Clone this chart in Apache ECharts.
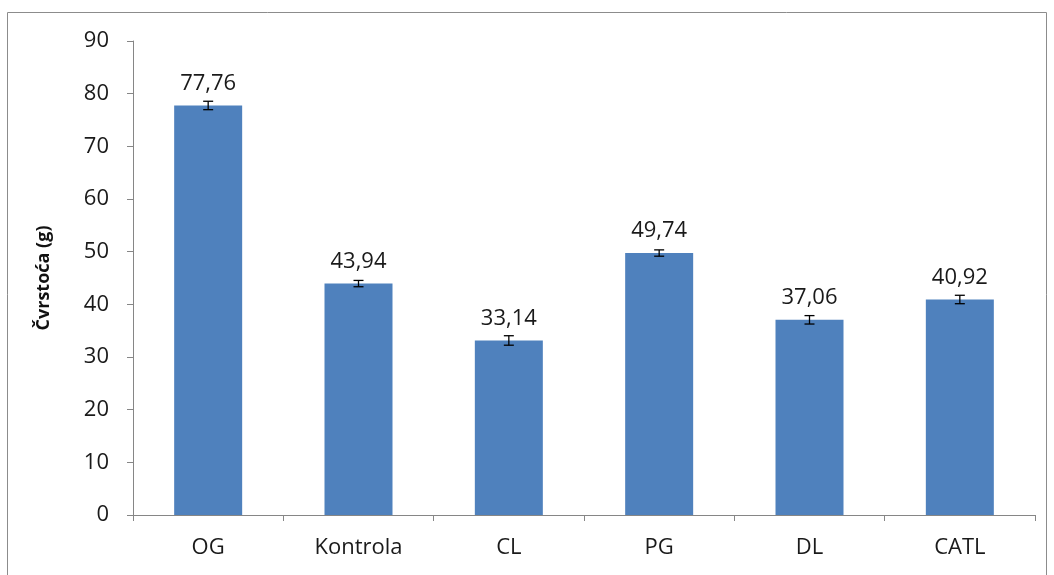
<!DOCTYPE html>
<html><head><meta charset="utf-8">
<script src="https://cdn.jsdelivr.net/npm/echarts@6/dist/echarts.min.js"></script>
<style>html,body{margin:0;padding:0;background:#fff}#c{width:1054px;height:575px}</style>
</head><body><div id="c"></div>
<script>
const categories = ['OG','Kontrola','CL','PG','DL','CATL'];
const values = [77.76, 43.94, 33.14, 49.74, 37.06, 40.92];
const errors = [0.8, 0.6, 0.9, 0.6, 0.8, 0.8];
const labels = ['77,76','43,94','33,14','49,74','37,06','40,92'];
const yTicks = [0,10,20,30,40,50,60,70,80,90];

const chart = echarts.init(document.getElementById('c'));
const font = 'Open Sans, Liberation Sans, sans-serif';
chart.setOption({
  animation:false,
  graphic:[{type:'rect',shape:{x:7.5,y:12.5,width:1039,height:600},style:{fill:'none',stroke:'#8c8c8c',lineWidth:1}}],
  grid:{left:133,right:19,top:41,bottom:60},
  xAxis:{type:'category',data:categories,
    axisLine:{lineStyle:{color:'#868686'}},
    axisTick:{show:true,alignWithLabel:false,length:6,lineStyle:{color:'#868686'}},
    axisLabel:{color:'#1a1a1a',fontSize:22,fontFamily:font,margin:22}},
  yAxis:{type:'value',min:0,max:90,interval:10,
    name:'Čvrstoća (g)',nameLocation:'middle',nameGap:80,
    nameTextStyle:{fontSize:18,fontWeight:'bold',color:'#111',fontFamily:font},
    axisLine:{show:true,lineStyle:{color:'#868686'}},
    axisTick:{show:true,inside:false,length:6,lineStyle:{color:'#868686'}},
    splitLine:{show:false},
    axisLabel:{color:'#1a1a1a',fontSize:22,fontFamily:font,margin:24,
      formatter:v=>yTicks.includes(v)?String(v):''}},
  series:[
    {type:'bar',data:values,barWidth:68,itemStyle:{color:'#4F81BD'},
      label:{show:true,position:'top',distance:11,fontSize:22,color:'#1a1a1a',fontFamily:font,
        formatter:p=>labels[p.dataIndex]}},
    {type:'custom',data:values.map((v,i)=>[i,v,errors[i]]),z:10,
      renderItem:(params,api)=>{
        const x=api.coord([api.value(0),api.value(1)])[0];
        const lo=api.coord([api.value(0),api.value(1)-api.value(2)])[1];
        const hi=api.coord([api.value(0),api.value(1)+api.value(2)])[1];
        const w=5;
        const st={stroke:'#000',lineWidth:1.3};
        return {type:'group',children:[
          {type:'line',shape:{x1:x,y1:lo,x2:x,y2:hi},style:st},
          {type:'line',shape:{x1:x-w,y1:lo,x2:x+w,y2:lo},style:st},
          {type:'line',shape:{x1:x-w,y1:hi,x2:x+w,y2:hi},style:st}
        ]};
      }}
  ]
});
</script></body></html>
